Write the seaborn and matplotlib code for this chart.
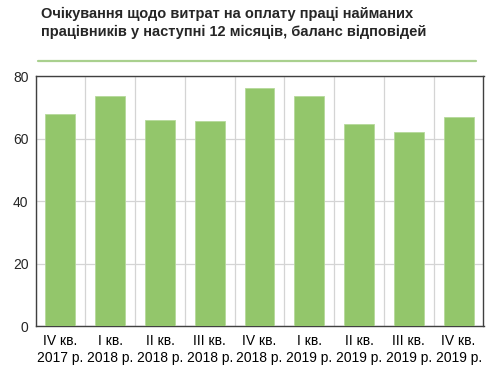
import numpy as np
import pandas as pd
import matplotlib
matplotlib.use("Agg")
import matplotlib.pyplot as plt
from matplotlib.lines import Line2D
import seaborn as sns

# quarters and balance of answers
quarters = ["IV кв.\n2017 р.", "I кв.\n2018 р.", "II кв.\n2018 р.", "III кв.\n2018 р.",
            "IV кв.\n2018 р.", "I кв.\n2019 р.", "II кв.\n2019 р.", "III кв.\n2019 р.",
            "IV кв.\n2019 р."]
balance = [67.7, 73.7, 65.9, 65.7, 76.2, 73.6, 64.6, 62.2, 67.0]
yticks = [0, 20, 40, 60, 80]
title = ("Очікування щодо витрат на оплату праці найманих\n"
         "працівників у наступні 12 місяців, баланс відповідей")

sns.set_style("white")
plt.rcParams["font.family"] = ["Liberation Sans", "DejaVu Sans"]

df = pd.DataFrame({"quarter": quarters, "balance": balance})

fig = plt.figure(figsize=(5.04, 3.75), dpi=100)
ax = fig.add_axes([35.5/504, 49/375, 448/504, 250/375])

sns.barplot(data=df, x="quarter", y="balance", color="#93C66B", saturation=1,
            width=0.6, ax=ax, zorder=3, edgecolor="#B5D99A", linewidth=0.6)

ax.set_ylim(0, 80)
ax.set_xlim(-0.5, len(quarters) - 0.5)
ax.set_yticks(yticks)
ax.set_xlabel("")
ax.set_ylabel("")

# grid between categories and at y ticks
ax.set_xticks(np.arange(len(quarters) + 1) - 0.5, minor=True)
ax.grid(True, which="minor", axis="x", color="#D4D4D4", lw=0.9, zorder=0)
ax.grid(True, which="major", axis="y", color="#D4D4D4", lw=0.9, zorder=0)
ax.set_axisbelow(True)

ax.tick_params(axis="x", which="major", length=0, labelsize=10, colors="black", pad=6)
ax.tick_params(axis="x", which="minor", length=4, direction="out", color="#404040", width=0.9)
ax.tick_params(axis="y", length=3, direction="out", color="#D4D4D4", labelsize=10, pad=2)
for s in ax.spines.values():
    s.set_visible(True)
    s.set_color("#404040")
    s.set_linewidth(1.0)

fig.text(41/504, 1 - 7/375, title, ha="left", va="top", fontsize=10.5,
         fontweight="bold", linespacing=1.35)
fig.add_artist(Line2D([38/504, 476/504], [1 - 61/375, 1 - 61/375],
                      color="#A9D08E", lw=1.6, transform=fig.transFigure))

fig.savefig("out.png", dpi=100)
